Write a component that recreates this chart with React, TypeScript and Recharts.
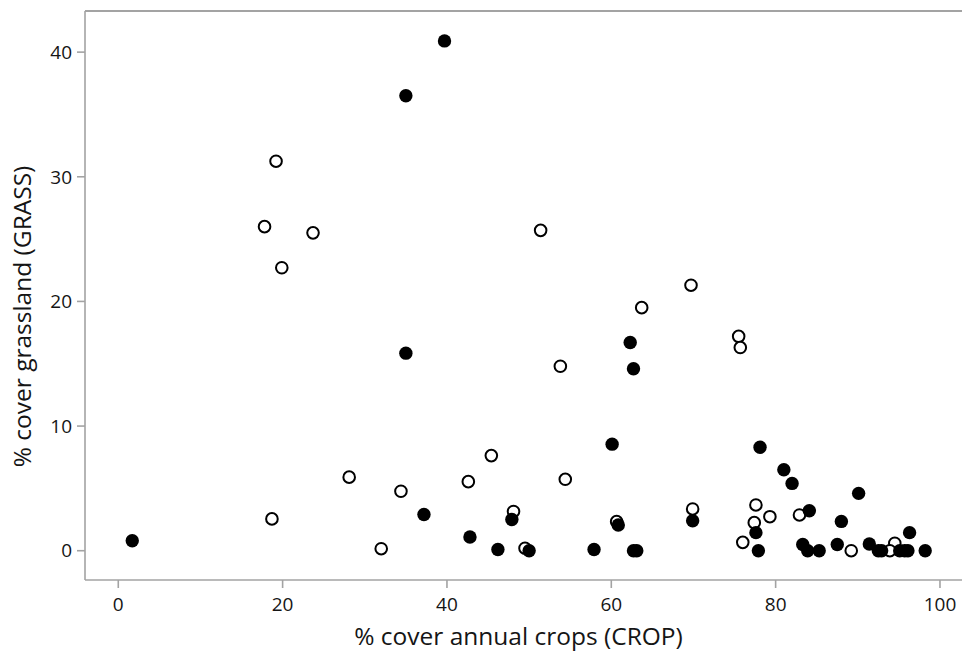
import React from "react";
import {
  ScatterChart,
  Scatter,
  XAxis,
  YAxis,
  ReferenceLine,
} from "recharts";

// Filled circles
const filledCrop = [1.7, 39.7, 35.0, 35.0, 37.2, 42.8, 46.2, 47.9, 50.0, 57.9, 60.1, 60.85, 62.3, 62.7, 62.7, 63.1, 69.9, 78.1, 77.6, 77.9, 81.0, 82.0, 84.1, 83.3, 83.9, 85.3, 87.5, 88.0, 90.1, 91.4, 92.5, 92.9, 95.1, 95.7, 96.1, 96.3, 98.2];
const filledGrass = [0.8, 40.9, 36.5, 15.85, 2.9, 1.1, 0.1, 2.5, 0.0, 0.1, 8.55, 2.06, 16.7, 14.6, 0.0, 0.0, 2.4, 8.3, 1.45, 0.0, 6.5, 5.4, 3.2, 0.5, 0.0, 0.0, 0.5, 2.35, 4.6, 0.54, 0.0, 0.0, 0.0, 0.0, 0.0, 1.45, 0.0];

// Open circles
const openCrop = [19.2, 17.8, 23.7, 19.9, 51.4, 69.7, 63.7, 75.5, 75.7, 53.8, 45.4, 54.4, 48.1, 60.65, 69.9, 77.6, 77.4, 79.3, 82.9, 76.0, 49.5, 89.2, 94.5, 93.9, 28.1, 18.7, 34.4, 32.0, 42.6];
const openGrass = [31.25, 26.0, 25.5, 22.7, 25.7, 21.3, 19.5, 17.2, 16.3, 14.8, 7.63, 5.73, 3.15, 2.33, 3.35, 3.67, 2.25, 2.73, 2.87, 0.67, 0.2, 0.0, 0.6, 0.0, 5.9, 2.55, 4.77, 0.16, 5.54];

const xTicks = [0, 20, 40, 60, 80, 100];
const yTicks = [0, 10, 20, 30, 40];
const xDomain = [-4.05, 102.68];
const yDomain = [-2.35, 43.3];

const xTitle = "% cover annual crops (CROP)";
const yTitle = "% cover grassland (GRASS)";

const filledData = filledCrop.map((c, i) => ({ crop: c, grass: filledGrass[i] }));
const openData = openCrop.map((c, i) => ({ crop: c, grass: openGrass[i] }));

const AXIS = "#a3a3a3";
const FONT = "'Open Sans', sans-serif";
const TEXT = "#151515";

const FilledDot = (props: any) => (
  <circle cx={props.cx} cy={props.cy} r={6.7} fill="#000" />
);
const OpenDot = (props: any) => (
  <circle cx={props.cx} cy={props.cy} r={5.8} fill="#fff" stroke="#000" strokeWidth={2} />
);

const XTitle = (props: any) => {
  const vb = props.viewBox || {};
  return (
    <text
      x={vb.x + vb.width / 2 - 5}
      y={vb.y + 65}
      textAnchor="middle"
      fontFamily={FONT}
      fontSize={24.5}
      fill={TEXT}
    >
      {xTitle}
    </text>
  );
};

const YTitle = (props: any) => {
  const vb = props.viewBox || {};
  const x = vb.x + 31;
  const y = vb.y + vb.height / 2 + 21;
  return (
    <text
      x={x}
      y={y}
      textAnchor="middle"
      fontFamily={FONT}
      fontSize={24.5}
      fill={TEXT}
      transform={`rotate(-90, ${x}, ${y})`}
    >
      {yTitle}
    </text>
  );
};

export default function App() {
  return (
    <div style={{ position: "absolute", left: 0, top: 0, width: 962, height: 651, background: "#fff" }}>
      <ScatterChart
        width={962}
        height={651}
        margin={{ top: 11, right: 0, bottom: 0, left: 0 }}
      >
        <XAxis
          type="number"
          dataKey="crop"
          domain={xDomain}
          ticks={xTicks}
          allowDataOverflow
          height={71}
          tickSize={8}
          tickMargin={10}
          axisLine={{ stroke: AXIS, strokeWidth: 1.6 }}
          tickLine={{ stroke: AXIS, strokeWidth: 1.6 }}
          tick={{ fontFamily: FONT, fontSize: 19, fill: TEXT }}
          label={<XTitle />}
        />
        <YAxis
          type="number"
          dataKey="grass"
          domain={yDomain}
          ticks={yTicks}
          allowDataOverflow
          width={85}
          tickSize={8}
          tickMargin={5}
          axisLine={{ stroke: AXIS, strokeWidth: 1.6 }}
          tickLine={{ stroke: AXIS, strokeWidth: 1.6 }}
          tick={{ fontFamily: FONT, fontSize: 19, fill: TEXT }}
          label={<YTitle />}
        />
        <ReferenceLine y={yDomain[1]} stroke={AXIS} strokeWidth={2} ifOverflow="visible" />
        <Scatter data={openData} shape={<OpenDot />} isAnimationActive={false} />
        <Scatter data={filledData} shape={<FilledDot />} isAnimationActive={false} />
      </ScatterChart>
    </div>
  );
}
